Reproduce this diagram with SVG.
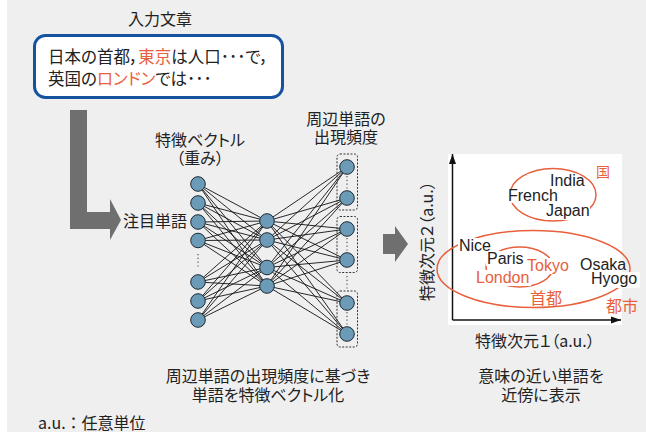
<svg xmlns="http://www.w3.org/2000/svg" width="646" height="437" viewBox="0 0 646 437">
<defs>
<style>
text{font-family:"Noto Sans CJK JP","Liberation Sans",sans-serif;fill:#222;font-feature-settings:"palt";}
.lat{font-family:"Liberation Sans","Noto Sans CJK JP",sans-serif;font-size:16px;}
.red{fill:#e8603c;}
.lbl{font-size:16px;}
.nd{fill:#6b9bb6;stroke:#1c2a36;stroke-width:1;}
.net{fill:none;stroke:#111;stroke-width:0.9;}
.grp{fill:none;stroke:#333;stroke-width:1;stroke-dasharray:2 1.5;}
.dots{fill:none;stroke:#555;stroke-width:1.2;stroke-dasharray:1.2 2.6;}
.ell{fill:none;stroke:#e8603c;stroke-width:1.5;}
.wb{fill:#fff;}
.garrow{fill:#6f6f6f;}
</style>
<marker id="ah" viewBox="0 0 10 10" refX="10" refY="5" markerWidth="10" markerHeight="10" markerUnits="userSpaceOnUse" orient="auto">
<path d="M0 1.5L10 5L0 8.5Z" fill="#111"/>
</marker>
</defs>
<rect x="0" y="0" width="646" height="437" fill="#fff"/>
<rect x="7" y="0" width="639" height="432" fill="#efefef"/>

<g id="input">
<text x="160" y="25" text-anchor="middle" class="lbl">入力文章</text>
<rect x="34.5" y="35.5" width="248" height="62" rx="11" fill="#fff" stroke="#1552a0" stroke-width="3"/>
<text font-size="16.5"><tspan x="48" y="63">日本の首都，<tspan class="red">東京</tspan>は人口･･･で，</tspan><tspan x="48" y="85">英国の<tspan class="red">ロンドン</tspan>では･･･</tspan></text>
</g>

<g id="arrow-in">
<path class="garrow" d="M70 110H87V212H110V199L121 220L110 240V229H70Z"/>
<text x="123" y="227" class="lbl">注目単語</text>
</g>

<g id="labels-net">
<text text-anchor="middle" class="lbl"><tspan x="200" y="146">特徴ベクトル</tspan><tspan x="200" y="164">（重み）</tspan></text>
<text text-anchor="middle" class="lbl"><tspan x="346" y="125">周辺単語の</tspan><tspan x="346" y="143">出現頻度</tspan></text>
</g>

<g id="connectors">
<path class="net" d="M198 184L267 221M198 184L267 240M198 184L267 267.5M198 184L267 286M198 203L267 221M198 203L267 240M198 203L267 267.5M198 203L267 286M198 222L267 221M198 222L267 240M198 222L267 267.5M198 222L267 286M198 240.5L267 221M198 240.5L267 240M198 240.5L267 267.5M198 240.5L267 286M198 282L267 221M198 282L267 240M198 282L267 267.5M198 282L267 286M198 301L267 221M198 301L267 240M198 301L267 267.5M198 301L267 286M198 320L267 221M198 320L267 240M198 320L267 267.5M198 320L267 286"/>
<path class="net" d="M267 221L347 167M267 221L347 198M267 221L347 229M267 221L347 260M267 221L347 303M267 221L347 334M267 240L347 167M267 240L347 198M267 240L347 229M267 240L347 260M267 240L347 303M267 240L347 334M267 267.5L347 167M267 267.5L347 198M267 267.5L347 229M267 267.5L347 260M267 267.5L347 303M267 267.5L347 334M267 286L347 167M267 286L347 198M267 286L347 229M267 286L347 260M267 286L347 303M267 286L347 334"/>
</g>

<g id="input-layer">
<circle id="i1" class="nd" cx="198" cy="184" r="7.3"/>
<circle id="i2" class="nd" cx="198" cy="203" r="7.3"/>
<circle id="i3" class="nd" cx="198" cy="222" r="7.3"/>
<circle id="i4" class="nd" cx="198" cy="240.5" r="7.3"/>
<path class="dots" d="M198 254V269"/>
<circle id="i5" class="nd" cx="198" cy="282" r="7.3"/>
<circle id="i6" class="nd" cx="198" cy="301" r="7.3"/>
<circle id="i7" class="nd" cx="198" cy="320" r="7.3"/>
</g>

<g id="hidden-layer">
<circle id="h1" class="nd" cx="267" cy="221" r="7.3"/>
<circle id="h2" class="nd" cx="267" cy="240" r="7.3"/>
<circle id="h3" class="nd" cx="267" cy="267.5" r="7.3"/>
<circle id="h4" class="nd" cx="267" cy="286" r="7.3"/>
</g>

<g id="output-layer">
<rect class="grp" x="337" y="154" width="20.5" height="56" rx="3"/>
<rect class="grp" x="337" y="216.5" width="20.5" height="56" rx="3"/>
<rect class="grp" x="337" y="291" width="20.5" height="56" rx="3"/>
<path class="dots" d="M347 176V190M347 238V252M347 276V290M347 312V326"/>
<circle id="o1" class="nd" cx="347" cy="167" r="7.3"/>
<circle id="o2" class="nd" cx="347" cy="198" r="7.3"/>
<circle id="o3" class="nd" cx="347" cy="229" r="7.3"/>
<circle id="o4" class="nd" cx="347" cy="260" r="7.3"/>
<circle id="o5" class="nd" cx="347" cy="303" r="7.3"/>
<circle id="o6" class="nd" cx="347" cy="334" r="7.3"/>
</g>

<g id="arrow-mid">
<path class="garrow" d="M383 234H395V226L408 244L395 262V254H383Z"/>
</g>

<g id="plot">
<rect x="448" y="154" width="174" height="171" fill="#fff"/>
<path d="M452.5 320V154" stroke="#111" stroke-width="1.5" fill="none" marker-end="url(#ah)"/>
<path d="M452.5 320H621" stroke="#111" stroke-width="1.5" fill="none" marker-end="url(#ah)"/>
<ellipse class="ell" cx="553" cy="194.7" rx="43" ry="26.3"/>
<ellipse class="ell" cx="533.5" cy="269" rx="96.5" ry="38.5"/>
<ellipse class="ell" cx="519.5" cy="267" rx="33.5" ry="20"/>
<rect class="wb" x="507" y="189" width="53" height="14"/>
<rect class="wb" x="545" y="203" width="45" height="17"/>
<rect class="wb" x="458" y="238" width="35" height="15"/>
<rect class="wb" x="486" y="251" width="40" height="15"/>
<rect class="wb" x="475" y="270" width="56" height="16"/>
<rect class="wb" x="526" y="258" width="47" height="16"/>
<rect class="wb" x="590" y="272" width="50" height="16"/>
<text class="lat" x="550" y="186">India</text>
<text class="lat" x="508" y="201">French</text>
<text class="lat" x="546" y="216">Japan</text>
<text x="596" y="177" font-size="14" class="red">国</text>
<text class="lat" x="459" y="251">Nice</text>
<text class="lat" x="487" y="263.5">Paris</text>
<text class="lat red" x="527" y="270.5">Tokyo</text>
<text class="lat red" x="476" y="283">London</text>
<text class="lat" x="580" y="270">Osaka</text>
<text class="lat" x="591" y="284">Hyogo</text>
<text x="530" y="304" class="lbl red">首都</text>
<text x="606" y="312" class="lbl red">都市</text>
<text x="475" y="347" font-size="16">特徴次元１（a.u.）</text>
<text transform="translate(433,301) rotate(-90)" font-size="16">特徴次元２（a.u.）</text>
</g>

<g id="captions">
<text text-anchor="middle" class="lbl"><tspan x="268" y="382">周辺単語の出現頻度に基づき</tspan><tspan x="268" y="401">単語を特徴ベクトル化</tspan></text>
<text text-anchor="middle" class="lbl"><tspan x="541" y="382">意味の近い単語を</tspan><tspan x="541" y="401">近傍に表示</tspan></text>
<text x="38" y="429" font-size="16" style="font-feature-settings:normal">a.u.：任意単位</text>
</g>
</svg>
